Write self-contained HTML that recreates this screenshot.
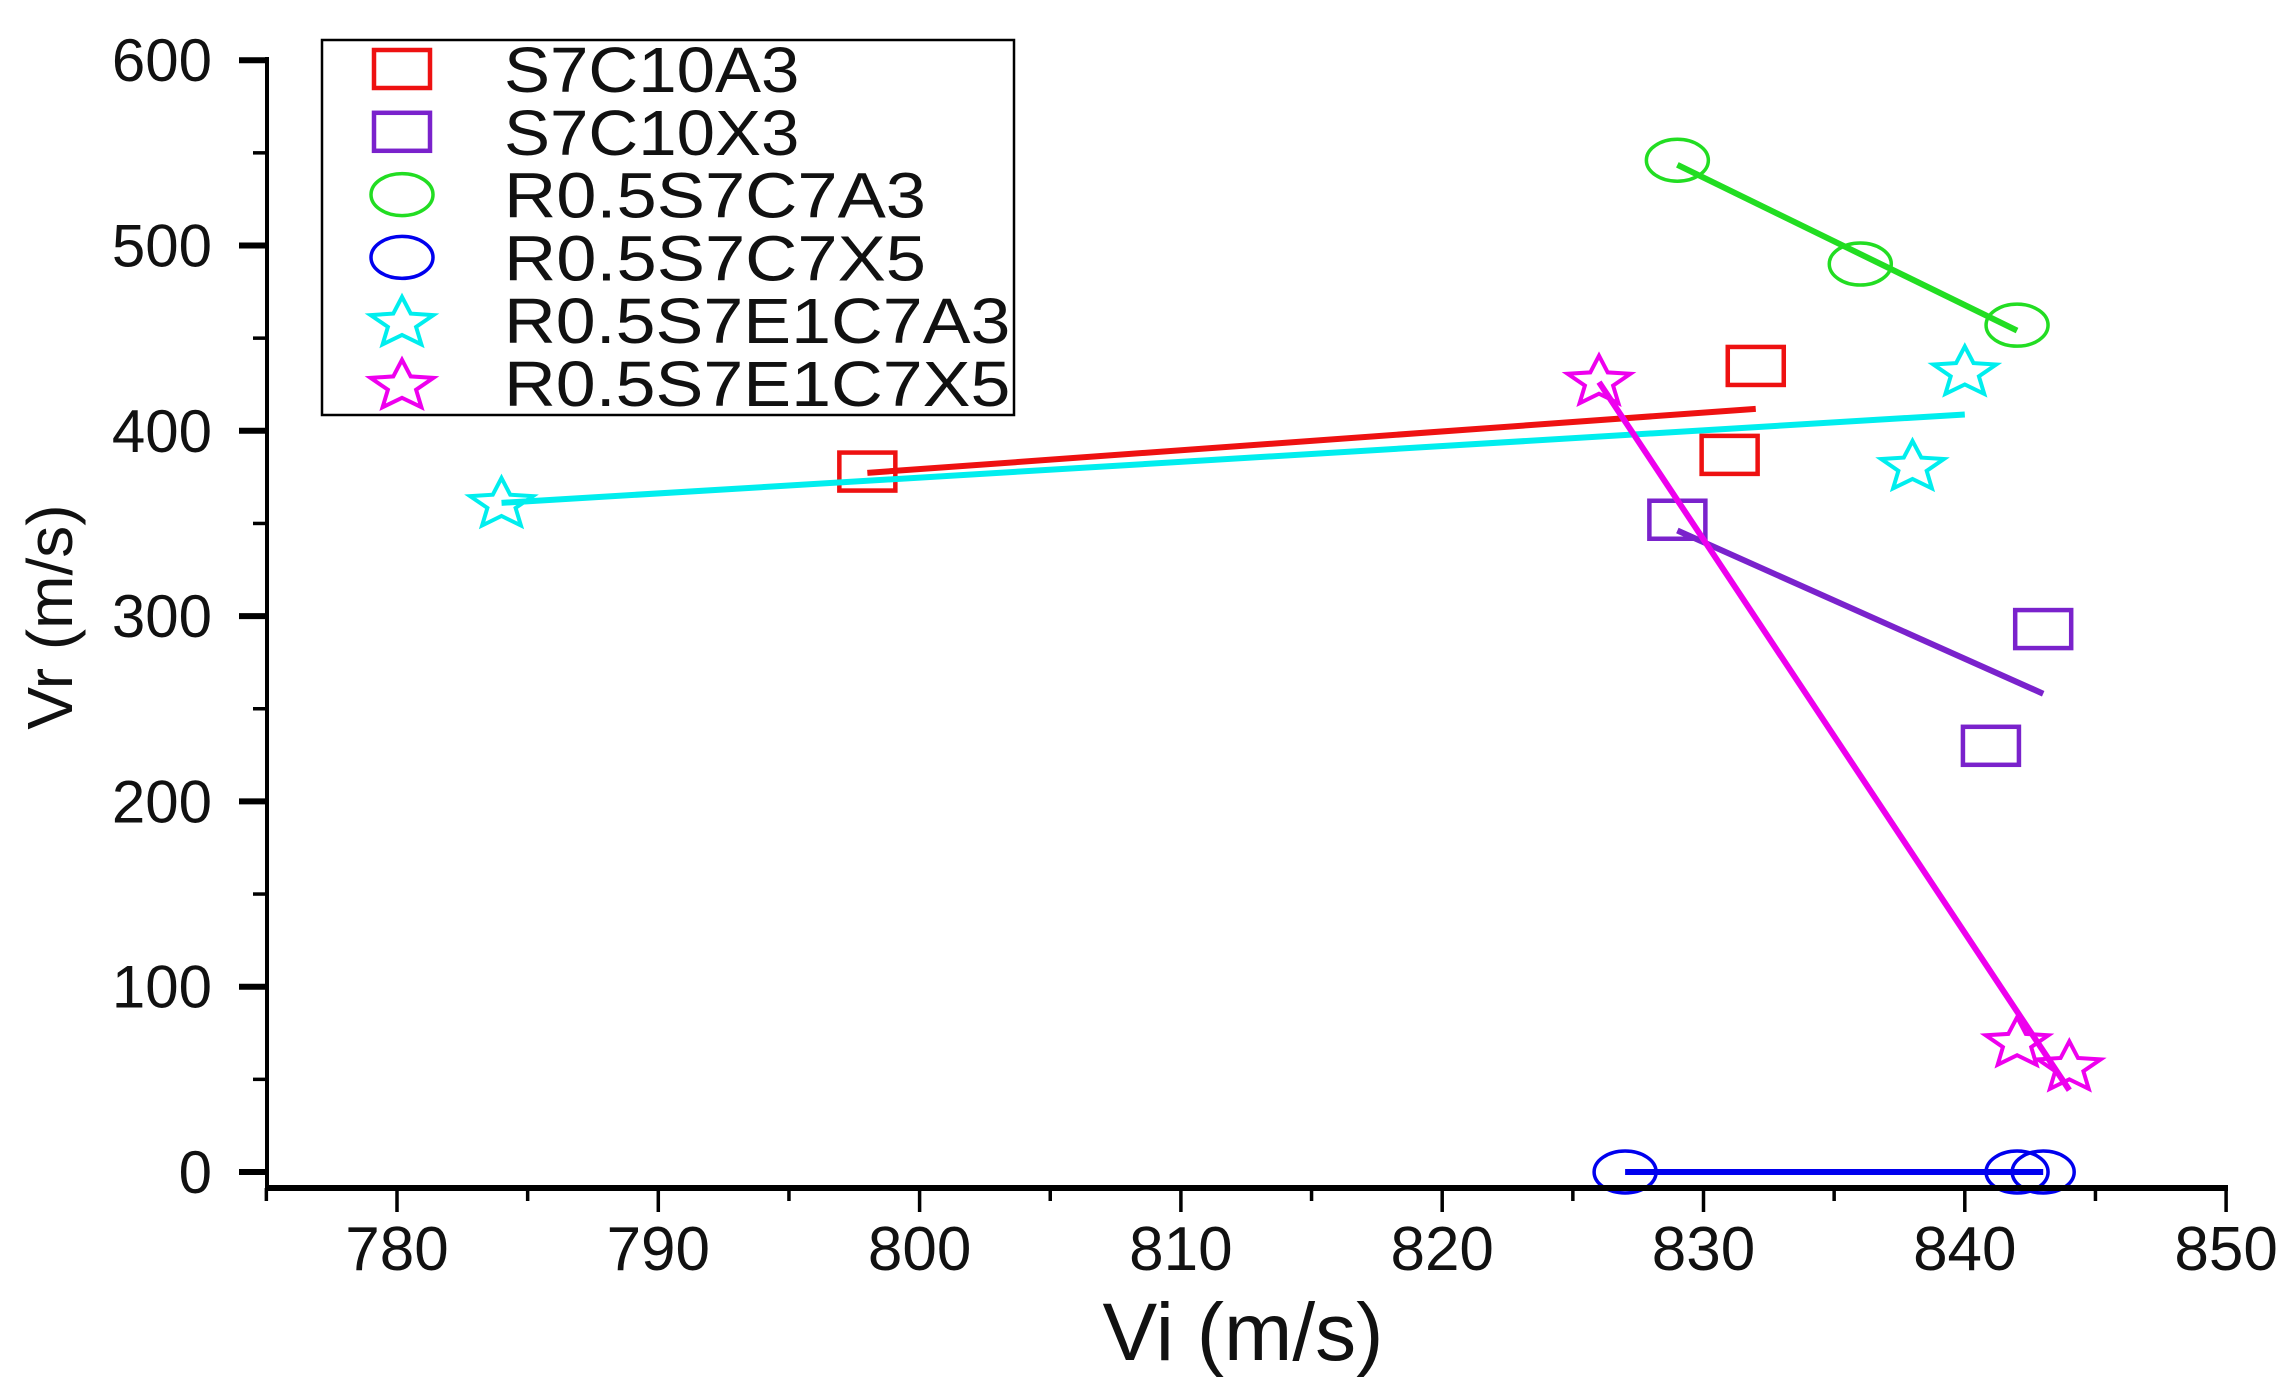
<!DOCTYPE html>
<html><head><meta charset="utf-8"><style>
html,body{margin:0;padding:0;background:#fff;}
svg{display:block;font-family:"Liberation Sans",Arial,sans-serif;}
</style></head><body>
<svg id="chart" width="2291" height="1380" viewBox="0 0 2291 1380">
<g id="marks"></g>
<g id="axes"></g>
<g id="legend"></g>
</svg>
<script>
const seriesNames = ["S7C10A3","S7C10X3","R0.5S7C7A3","R0.5S7C7X5","R0.5S7E1C7A3","R0.5S7E1C7X5"];
const seriesColors = ["#ee1111","#7a22cc","#22dd22","#0000ee","#00eeee","#ee00ee"];
const seriesShapes = ["square","square","circle","circle","star","star"];
const xS7C10A3 = [798, 831, 832];
const yS7C10A3 = [378, 387, 435];
const xS7C10X3 = [829, 841, 843];
const yS7C10X3 = [352, 230, 293];
const xR05S7C7A3 = [829, 836, 842];
const yR05S7C7A3 = [546, 490, 457];
const xR05S7C7X5 = [827, 842, 843];
const yR05S7C7X5 = [0, 0, 0];
const xR05S7E1C7A3 = [784, 838, 840];
const yR05S7E1C7A3 = [362, 382, 433];
const xR05S7E1C7X5 = [826, 842, 844];
const yR05S7E1C7X5 = [428, 71, 58];
const xTicks = [780, 790, 800, 810, 820, 830, 840, 850];
const yTicks = [0, 100, 200, 300, 400, 500, 600];

const xs = [xS7C10A3,xS7C10X3,xR05S7C7A3,xR05S7C7X5,xR05S7E1C7A3,xR05S7E1C7X5];
const ys = [yS7C10A3,yS7C10X3,yR05S7C7A3,yR05S7C7X5,yR05S7E1C7A3,yR05S7E1C7X5];
const NS="http://www.w3.org/2000/svg";
const X0=397, XPER=26.13, Y0=1172, YPER=1.853;
function sx(v){return X0+(v-780)*XPER;}
function sy(v){return Y0-v*YPER;}
function mk(tag,attrs,parent){const e=document.createElementNS(NS,tag);for(const k in attrs)e.setAttribute(k,attrs[k]);parent.appendChild(e);return e;}
function starPts(cx,cy,rx,ry){let p=[];for(let i=0;i<10;i++){const a=-Math.PI/2+i*Math.PI/5;const f=i%2?0.45:1;p.push((cx+Math.cos(a)*rx*f).toFixed(1)+","+(cy+Math.sin(a)*ry*f*1.05+ry*0.12).toFixed(1));}return p.join(" ");}
function marker(shape,cx,cy,color,parent){
  let e;
  if(shape==="square") e=mk("rect",{x:cx-28,y:cy-19,width:56,height:38,fill:"none",stroke:color,"stroke-width":4.5},parent);
  else if(shape==="circle") e=mk("ellipse",{cx:cx,cy:cy,rx:31,ry:21,fill:"none",stroke:color,"stroke-width":3.5},parent);
  else e=mk("polygon",{points:starPts(cx,cy,33,25),fill:"none",stroke:color,"stroke-width":4,"stroke-linejoin":"miter"},parent);
  return e;
}
const marks=document.getElementById("marks");
for(let s=0;s<xs.length;s++){
  const X=xs[s],Y=ys[s],n=X.length;
  const mx=X.reduce((a,b)=>a+b)/n,my=Y.reduce((a,b)=>a+b)/n;
  let sxx=0,sxy=0;for(let i=0;i<n;i++){sxx+=(X[i]-mx)**2;sxy+=(X[i]-mx)*(Y[i]-my);}
  const b=sxx?sxy/sxx:0;
  const xa=Math.min(...X),xb=Math.max(...X);
  const ln=mk("line",{x1:sx(xa),y1:sy(my+b*(xa-mx)),x2:sx(xb),y2:sy(my+b*(xb-mx)),stroke:seriesColors[s],"stroke-width":6},marks);
  
  
  for(let i=0;i<n;i++){
    const m=marker(seriesShapes[s],sx(X[i]),sy(Y[i]),seriesColors[s],marks);
    
    
  }
}
const axes=document.getElementById("axes");
let a=mk("line",{x1:267,y1:57,x2:267,y2:1190,stroke:"#000","stroke-width":4},axes);


a=mk("line",{x1:265,y1:1188,x2:2228,y2:1188,stroke:"#000","stroke-width":6},axes);


for(let v=775;v<=850;v+=5){
  const maj=v%10===0;
  mk("line",{x1:sx(v),y1:1188,x2:sx(v),y2:1188+(maj?24:13),stroke:"#000","stroke-width":3.5},axes);
}
for(let i=0;i<xTicks.length;i++){
  const t=mk("text",{x:sx(xTicks[i]),y:1270,"font-size":62,"text-anchor":"middle",fill:"#111"},axes);
  t.textContent=xTicks[i];
  
  
}
for(let v=0;v<=600;v+=50){
  const maj=v%100===0;
  mk("line",{x1:267,y1:sy(v),x2:267-(maj?28:14),y2:sy(v),stroke:"#000","stroke-width":maj?6:3.5},axes);
}
for(let i=0;i<yTicks.length;i++){
  const t=mk("text",{x:212,y:sy(yTicks[i])+21,"font-size":60,"text-anchor":"end",fill:"#111"},axes);
  t.textContent=yTicks[i];
  
  
}
let t=mk("text",{x:1243,y:1360,"font-size":82,"text-anchor":"middle",fill:"#111"},axes);
t.textContent="Vi (m/s)";


t=mk("text",{x:0,y:0,"font-size":64,"text-anchor":"middle",fill:"#111",transform:"translate(72,617) rotate(-90)"},axes);
t.textContent="Vr (m/s)";



const lg=document.getElementById("legend");
let box=mk("rect",{x:322,y:40,width:692,height:375,fill:"#fff",stroke:"#000","stroke-width":2.5},lg);


for(let s=0;s<seriesNames.length;s++){
  const cy=69+s*62.8;
  const g=mk("g",{},lg);
  
  
  marker(seriesShapes[s],402,cy,seriesColors[s],g);
  const tx=mk("text",{x:504,y:cy+23,"font-size":64,fill:"#111",textLength:seriesNames[s].length*42.2,lengthAdjust:"spacingAndGlyphs"},g);
  tx.textContent=seriesNames[s];
}
</script>
</body></html>
